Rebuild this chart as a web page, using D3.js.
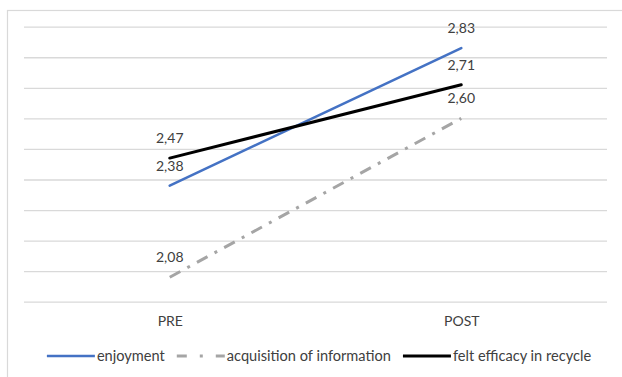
<!DOCTYPE html>
<html>
<head>
<meta charset="utf-8">
<script src="https://cdn.jsdelivr.net/npm/d3@7"></script>
<style>
  html, body { margin: 0; padding: 0; background: #fff; }
  svg { display: block; }
  text { font-family: Lato, "Open Sans", sans-serif; fill: #404040; }
</style>
</head>
<body>
<svg id="chart" width="622" height="377"></svg>
<script>
// Survey phases and mean scores per measure
const phases = ["PRE", "POST"];
const enjoyment = [2.38, 2.83];
const acquisition = [2.08, 2.60];
const efficacy = [2.47, 2.71];
const yTicks = [2.0, 2.1, 2.2, 2.3, 2.4, 2.5, 2.6, 2.7, 2.8, 2.9];

const series = [
  { name: "enjoyment", values: enjoyment, color: "#4472c4", width: 2.6, dash: null, legendDash: null },
  { name: "acquisition of information", values: acquisition, color: "#a5a5a5", width: 3, dash: "12,8,3,8", legendDash: "10,13,3,13" },
  { name: "felt efficacy in recycle", values: efficacy, color: "#000000", width: 3, dash: null, legendDash: null }
];

const plot = { left: 24, right: 607, top: 26.7, bottom: 301.7 };

const svg = d3.select("#chart");

// Chart area frame (extends past the right and bottom edges)
svg.append("rect")
  .attr("x", 7.5).attr("y", 10.5)
  .attr("width", 700).attr("height", 500)
  .attr("fill", "#fff")
  .attr("stroke", "#d9d9d9").attr("stroke-width", 1.2);

const x = d3.scalePoint().domain(phases).range([plot.left, plot.right]).padding(0.5);
const y = d3.scaleLinear().domain([2.0, 2.9]).range([plot.bottom, plot.top]);

// Horizontal gridlines
const grid = svg.append("g")
  .attr("transform", `translate(${plot.left},0)`)
  .call(d3.axisLeft(y).tickValues(yTicks).tickSize(-(plot.right - plot.left)).tickFormat(""));
grid.select(".domain").remove();
grid.selectAll(".tick line").attr("stroke", "#d9d9d9").attr("stroke-width", 1.3);

// Category labels
const xAxis = svg.append("g")
  .attr("transform", `translate(0,${plot.bottom})`)
  .call(d3.axisBottom(x).tickSize(0).tickPadding(14));
xAxis.select(".domain").remove();
xAxis.selectAll(".tick text")
  .style("font-family", "Lato, 'Open Sans', sans-serif")
  .attr("font-size", 14).attr("fill", "#404040");

const fmt = d3.formatLocale({ decimal: ",", thousands: ".", grouping: [3], currency: ["", ""] }).format(".2f");

const line = d3.line().x((d, i) => x(phases[i])).y(d => y(d));

// Series lines
series.forEach(s => {
  svg.append("path")
    .datum(s.values)
    .attr("d", line)
    .attr("fill", "none")
    .attr("stroke", s.color)
    .attr("stroke-width", s.width)
    .attr("stroke-linecap", s.dash ? "butt" : "round")
    .attr("stroke-dasharray", s.dash);
});

// Value labels above each point
series.forEach(s => {
  svg.append("g").selectAll("text")
    .data(s.values)
    .join("text")
    .attr("x", (d, i) => x(phases[i]))
    .attr("y", d => y(d) - 15)
    .attr("text-anchor", "middle")
    .attr("font-size", 14)
    .text(d => fmt(d));
});

// Legend
const legend = svg.append("g").attr("transform", "translate(0,356)");
const items = [];
series.forEach(s => {
  const g = legend.append("g");
  g.append("line")
    .attr("x1", 0).attr("x2", 48).attr("y1", 0).attr("y2", 0)
    .attr("stroke", s.color).attr("stroke-width", s.width)
    .attr("stroke-dasharray", s.legendDash);
  const t = g.append("text")
    .attr("x", 50).attr("y", 5)
    .attr("font-size", 14.6)
    .text(s.name);
  const w = 50 + t.node().getComputedTextLength();
  items.push({ g, w });
});
const gap = 12;
const total = d3.sum(items, d => d.w) + gap * (items.length - 1);
let cx = 319 - total / 2;
items.forEach(it => {
  it.g.attr("transform", `translate(${cx},0)`);
  cx += it.w + gap;
});
</script>
</body>
</html>
